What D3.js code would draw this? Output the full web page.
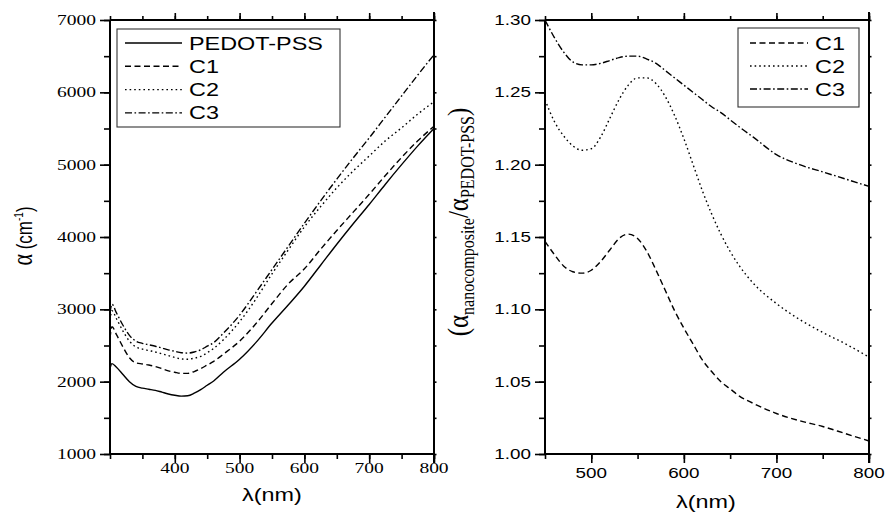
<!DOCTYPE html>
<html><head><meta charset="utf-8">
<script src="https://cdn.jsdelivr.net/npm/d3@7"></script>
<style>body{margin:0;background:#fff}svg{display:block}</style>
</head><body><svg id="c" width="886" height="515"></svg>
<script>
// ---------- DATA ----------
const leftSeries = ["PEDOT-PSS", "C1", "C2", "C3"];
const leftWavelength = [300,303,310,320,330,340,350,360,370,380,390,400,410,420,430,440,450,460,475,500,525,550,575,600,625,650,675,700,725,750,775,800];
const leftPEDOT = [2180,2250,2200,2100,2000,1935,1910,1895,1880,1855,1830,1812,1800,1805,1840,1890,1950,2010,2130,2310,2540,2810,3060,3320,3610,3900,4180,4450,4730,5000,5260,5500];
const leftC1    = [2600,2760,2650,2480,2330,2260,2245,2230,2210,2180,2150,2130,2115,2115,2140,2180,2230,2280,2380,2560,2800,3080,3350,3560,3830,4090,4340,4590,4850,5100,5330,5530];
const leftC2    = [2850,2980,2870,2700,2560,2480,2450,2430,2410,2385,2360,2335,2315,2310,2325,2350,2400,2460,2580,2830,3140,3490,3820,4140,4420,4680,4910,5120,5330,5510,5700,5870];
const leftC3    = [2950,3070,2950,2780,2640,2560,2530,2510,2490,2465,2440,2420,2400,2395,2410,2440,2490,2540,2670,2920,3230,3550,3870,4190,4500,4800,5090,5370,5660,5950,6240,6520];

const rightSeries = ["C1", "C2", "C3"];
const rightWavelength = [450,460,470,480,490,500,510,520,530,540,550,560,570,580,590,600,610,620,630,640,650,660,675,700,725,750,775,800];
const ratioC1 = [1.147,1.138,1.130,1.126,1.125,1.127,1.133,1.141,1.149,1.152,1.149,1.140,1.127,1.113,1.099,1.087,1.076,1.065,1.057,1.050,1.045,1.040,1.035,1.028,1.023,1.019,1.014,1.009];
const ratioC2 = [1.245,1.230,1.220,1.213,1.210,1.211,1.219,1.232,1.245,1.255,1.260,1.260,1.256,1.247,1.234,1.218,1.200,1.182,1.166,1.152,1.140,1.130,1.118,1.104,1.093,1.084,1.076,1.067];
const ratioC3 = [1.300,1.288,1.278,1.271,1.269,1.269,1.270,1.272,1.274,1.275,1.275,1.273,1.270,1.265,1.260,1.255,1.250,1.245,1.240,1.236,1.231,1.226,1.219,1.207,1.200,1.195,1.190,1.185];

const leftYTicks = [1000,2000,3000,4000,5000,6000,7000];
const leftXTicks = [400,500,600,700,800];
const rightYTicks = [1.00,1.05,1.10,1.15,1.20,1.25,1.30];
const rightXTicks = [500,600,700,800];

// ---------- STYLE ----------
const dashes = {"PEDOT-PSS": null, "C1": "6,3.5", "C2": "1.6,3", "C3": "7,2.5,1.6,2.5"};
const SX = 1.3; // horizontal text stretch
const svg = d3.select("#c");

function stext(g, x, y, str, opts) {
  const t = g.append("text")
    .attr("transform", `translate(${x},${y}) scale(${opts.sx||SX},1)`)
    .attr("text-anchor", opts.anchor || "start")
    .attr("font-family", opts.family || "'Liberation Sans', Arial, sans-serif")
    .attr("font-size", opts.size || 15)
    .attr("fill", "#000")
    .text(str);
  return t;
}

function panel(cfg) {
  const g = svg.append("g");
  const x = d3.scaleLinear().domain(cfg.xd).range([cfg.x0, cfg.x1]);
  const y = d3.scaleLinear().domain(cfg.yd).range([cfg.y1, cfg.y0]);
  const line = d3.line().x(d => x(d[0])).y(d => y(d[1])).curve(d3.curveMonotoneX);

  cfg.series.forEach(s => {
    g.append("path")
      .datum(cfg.xs.map((v, i) => [v, s.vals[i]]))
      .attr("d", line)
      .attr("fill", "none").attr("stroke", "#000").attr("stroke-width", 1.4)
      .attr("stroke-dasharray", dashes[s.name]);
  });

  const axW = 2;
  const minorX = d3.range(cfg.xd[0], cfg.xd[1] + 0.001, cfg.xMinor);
  const minorY = d3.range(0, Math.round((cfg.yd[1]-cfg.yd[0])/cfg.yMinor)+1).map(i => cfg.yd[0] + i*cfg.yMinor);

  function axisGroup(axis, tr) {
    const a = g.append("g").attr("transform", tr).call(axis);
    a.selectAll("path.domain").remove();
    a.selectAll("line").attr("stroke", "#000").attr("stroke-width", 1.6);
    a.selectAll("text").remove();
    return a;
  }
  axisGroup(d3.axisBottom(x).tickValues(minorX).tickSize(5), `translate(0,${cfg.y1})`);
  axisGroup(d3.axisBottom(x).tickValues(cfg.xTicks).tickSize(9), `translate(0,${cfg.y1})`);
  axisGroup(d3.axisTop(x).tickValues(minorX).tickSize(4), `translate(0,${cfg.y0})`);
  axisGroup(d3.axisTop(x).tickValues(cfg.xTicks).tickSize(7), `translate(0,${cfg.y0})`);
  axisGroup(d3.axisLeft(y).tickValues(minorY).tickSize(6), `translate(${cfg.x0},0)`);
  axisGroup(d3.axisLeft(y).tickValues(cfg.yTicks).tickSize(10), `translate(${cfg.x0},0)`);
  axisGroup(d3.axisRight(y).tickValues(minorY).tickSize(2.5), `translate(${cfg.x1},0)`);

  g.append("line").attr("x1", cfg.x0).attr("x2", cfg.x1).attr("y1", cfg.y0).attr("y2", cfg.y0).attr("stroke", "#000").attr("stroke-width", axW);
  g.append("line").attr("x1", cfg.x0).attr("x2", cfg.x1).attr("y1", cfg.y1).attr("y2", cfg.y1).attr("stroke", "#000").attr("stroke-width", axW);
  g.append("line").attr("x1", cfg.x0).attr("x2", cfg.x0).attr("y1", cfg.y0).attr("y2", cfg.y1).attr("stroke", "#000").attr("stroke-width", axW);
  g.append("line").attr("x1", cfg.x1).attr("x2", cfg.x1).attr("y1", cfg.y0 - 8).attr("y2", cfg.y1 + 9).attr("stroke", "#000").attr("stroke-width", axW);

  cfg.yTicks.forEach(v => stext(g, cfg.x0 - 14, y(v) + 5, cfg.yFmt(v), {anchor: "end", family: cfg.tickFamily, size: cfg.tickSize}));
  cfg.xTicks.forEach(v => stext(g, x(v), cfg.y1 + cfg.xLabDy, String(v), {anchor: "middle", family: cfg.tickFamily, size: cfg.tickSize}));

  const L = cfg.legend;
  g.append("rect").attr("x", L.x).attr("y", L.y).attr("width", L.w).attr("height", L.h)
    .attr("fill", "#fff").attr("stroke", "#333").attr("stroke-width", 1.1);
  cfg.series.forEach((s, i) => {
    const yy = L.y + L.first + i * L.step;
    g.append("line").attr("x1", L.x + L.l0).attr("x2", L.x + L.l1).attr("y1", yy).attr("y2", yy)
      .attr("stroke", "#000").attr("stroke-width", 1.4).attr("stroke-dasharray", dashes[s.name]);
    stext(g, L.x + L.tx, yy + 6.5, s.name, {size: 18});
  });
  return {g, x, y};
}

panel({
  x0: 110, x1: 434, y0: 20, y1: 454,
  xd: [300, 800], yd: [1000, 7000],
  xs: leftWavelength,
  series: [{name: "PEDOT-PSS", vals: leftPEDOT}, {name: "C1", vals: leftC1}, {name: "C2", vals: leftC2}, {name: "C3", vals: leftC3}],
  xTicks: leftXTicks, yTicks: leftYTicks, xMinor: 50, yMinor: 500,
  yFmt: d => String(d), tickFamily: "'Liberation Serif', 'Times New Roman', serif", tickSize: 15, xLabDy: 19,
  legend: {x: 117, y: 29, w: 223, h: 98, first: 14, step: 23.3, l0: 8, l1: 65, tx: 72}
});

panel({
  x0: 545, x1: 869, y0: 20, y1: 454,
  xd: [450, 800], yd: [1.00, 1.30],
  xs: rightWavelength,
  series: [{name: "C1", vals: ratioC1}, {name: "C2", vals: ratioC2}, {name: "C3", vals: ratioC3}],
  xTicks: rightXTicks, yTicks: rightYTicks, xMinor: 50, yMinor: 0.025,
  yFmt: d => d.toFixed(2), tickFamily: "'Liberation Sans', Arial, sans-serif", tickSize: 14.5, xLabDy: 24,
  legend: {x: 738, y: 28, w: 121, h: 79, first: 15, step: 23, l0: 12, l1: 70, tx: 77}
});

// axis titles
const lab = svg.append("g");
const ly = lab.append("text").attr("transform", "translate(32,236) rotate(-90) scale(1,1.3)")
  .attr("text-anchor", "middle").attr("font-family", "'Liberation Sans', Arial, sans-serif").attr("font-size", 17);
ly.append("tspan").attr("font-family", "'Liberation Serif', serif").attr("font-size", 22).text("α");
ly.append("tspan").text(" (cm");
ly.append("tspan").attr("font-size", 10).attr("dy", -7).text("-1");
ly.append("tspan").attr("dy", 7).text(")");
stext(lab, 272, 501, "λ(nm)", {anchor: "middle", size: 18});
stext(lab, 706, 508, "λ(nm)", {anchor: "middle", size: 18});
const ry = lab.append("text").attr("transform", "translate(468,222) rotate(-90) scale(1,1.2)")
  .attr("text-anchor", "middle").attr("font-family", "'Liberation Serif', 'Times New Roman', serif").attr("font-size", 25);
ry.append("tspan").text("(α");
ry.append("tspan").attr("font-size", 16).attr("dy", 5).text("nanocomposite");
ry.append("tspan").attr("dy", -5).text("/α");
ry.append("tspan").attr("font-size", 16).attr("dy", 5).text("PEDOT-PSS");
ry.append("tspan").attr("dy", -5).text(")");
</script></body></html>
